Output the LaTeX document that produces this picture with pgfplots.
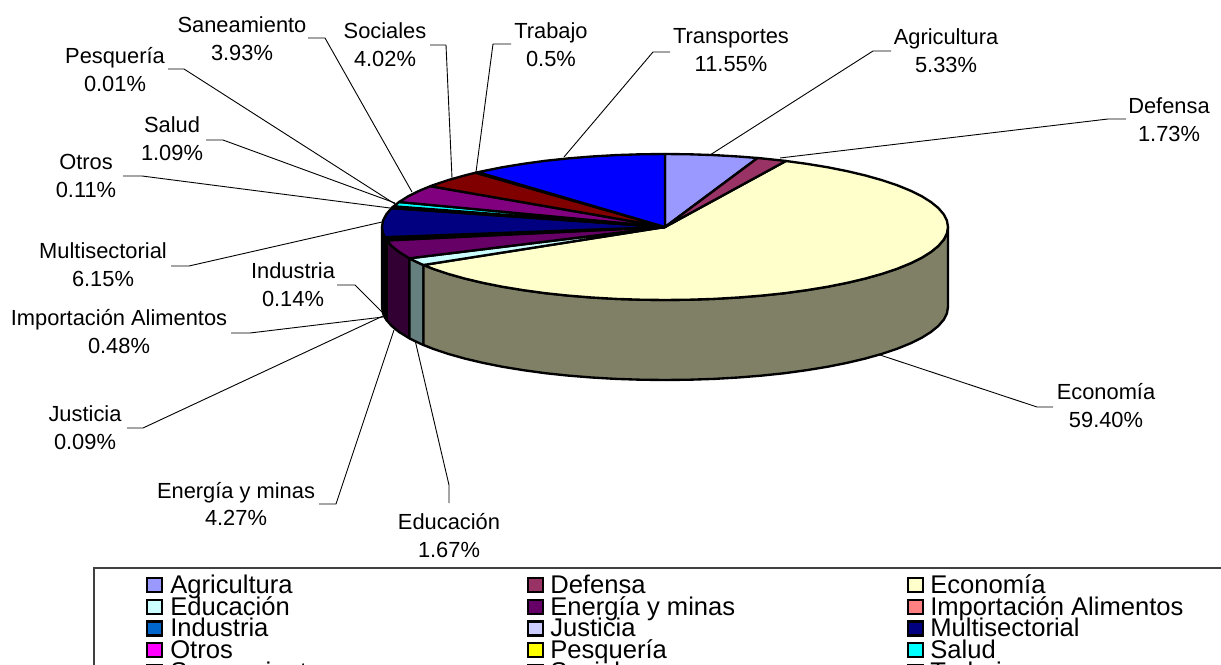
\documentclass[border=0pt]{standalone}
\usepackage{fontspec}
\setmainfont{Liberation Sans}
\usepackage{pgfplots}
\pgfplotsset{compat=1.18}
\definecolor{cAgri}{HTML}{9999FF}
\definecolor{cDef}{HTML}{993366}
\definecolor{cEco}{HTML}{FFFFCC}
\definecolor{cEdu}{HTML}{CCFFFF}
\definecolor{cEne}{HTML}{660066}
\definecolor{cImp}{HTML}{FF8080}
\definecolor{cInd}{HTML}{0066CC}
\definecolor{cJus}{HTML}{CCCCFF}
\definecolor{cMul}{HTML}{000080}
\definecolor{cOtr}{HTML}{FF00FF}
\definecolor{cPes}{HTML}{FFFF00}
\definecolor{cSal}{HTML}{00FFFF}
\definecolor{cSan}{HTML}{800080}
\definecolor{cSoc}{HTML}{800000}
\definecolor{cTra}{HTML}{008080}
\definecolor{cTrn}{HTML}{0000FF}
\definecolor{sEco}{HTML}{808066}
\definecolor{sEdu}{HTML}{668080}
\definecolor{sEne}{HTML}{330033}
\definecolor{sImp}{HTML}{804040}
\definecolor{sInd}{HTML}{003366}
\definecolor{sJus}{HTML}{666680}
\definecolor{sMul}{HTML}{000040}
\tikzset{
  ld/.style={black,line width=0.65pt,line join=round,mark=none},
  sl/.style={draw=black,line width=1.7pt,line join=round,mark=none,fill=#1},
  sw/.style={draw=black,line width=1.8pt,line join=miter,mark=none,fill=#1},
  lab/.style={inner sep=0,align=center,font=\fontsize{15.8}{20.2}\selectfont},
  leg/.style={inner sep=0,anchor=base west,font=\fontsize{18.5}{20}\selectfont}}
\begin{document}
\begin{tikzpicture}
\path[use as bounding box, clip] (0,0) rectangle (12.21in,6.65in);
\begin{axis}[at={(0,0)},anchor=south west,scale only axis,width=12.21in,height=6.65in,
  xmin=0,xmax=1221,ymin=0,ymax=665,y dir=reverse,axis lines=none,clip=false]
% leader lines
\addplot[ld] coordinates {(308,38)(325,38)(412,192)};
\addplot[ld] coordinates {(168,69)(184,69)(395,204)};
\addplot[ld] coordinates {(206,140)(223,140)(395,203)};
\addplot[ld] coordinates {(123,176)(142,176)(390,208)};
\addplot[ld] coordinates {(430,45)(446,45)(452,178)};
\addplot[ld] coordinates {(511,44)(493,44)(476,172)};
\addplot[ld] coordinates {(670,52)(653,52)(564,157)};
\addplot[ld] coordinates {(891,51)(873,51)(710,155)};
\addplot[ld] coordinates {(1126,119)(1108,119)(780,158)};
\addplot[ld] coordinates {(1053,407)(1037,407)(877,354)};
\addplot[ld] coordinates {(171,266)(189,266)(382,222)};
\addplot[ld] coordinates {(337,285)(355,285)(383,313)};
\addplot[ld] coordinates {(231,333)(250,333)(383,317)};
\addplot[ld] coordinates {(127,428)(143,428)(383,316)};
\addplot[ld] coordinates {(319,504)(336,504)(394,330)};
\addplot[ld] coordinates {(449,503)(449,485)(415,340)};
% side faces
\addplot[sl=sMul] coordinates {(384.8,237.2)(383.1,233.4)(382,227)(382,307)(383.1,313.4)(384.8,317.2)} --cycle;
\addplot[sl=sJus] coordinates {(385,237.6)(384.8,237.2)(384.8,317.2)(385,317.6)} --cycle;
\addplot[sl=sInd] coordinates {(385.4,238.2)(385,237.6)(385,317.6)(385.4,318.2)} --cycle;
\addplot[sl=sImp] coordinates {(386.8,240.4)(385.4,238.2)(385.4,318.2)(386.8,320.4)} --cycle;
\addplot[sl=sEne] coordinates {(409.4,258.3)(399.1,252)(391.6,245.9)(386.8,240.4)(386.8,320.4)(391.6,325.9)(399.1,332)(409.4,338.3)} --cycle;
\addplot[sl=sEdu] coordinates {(423.5,265)(419.9,263.5)(409.4,258.3)(409.4,338.3)(419.9,343.5)(423.5,345)} --cycle;
\addplot[sl=sEco] coordinates {(948,227)(946.9,233.4)(943.7,239.7)(938.4,245.9)(930.9,252)(921.5,257.9)(910.1,263.5)(896.8,268.9)(881.8,273.9)(865.1,278.6)(846.9,282.9)(827.3,286.8)(806.5,290.2)(784.6,293.2)(761.8,295.6)(738.2,297.5)(714.1,298.9)(689.7,299.7)(665,300)(640.3,299.7)(615.9,298.9)(591.8,297.5)(568.2,295.6)(545.4,293.2)(523.5,290.2)(502.7,286.8)(483.1,282.9)(464.9,278.6)(448.2,273.9)(433.2,268.9)(423.5,265)(423.5,345)(433.2,348.9)(448.2,353.9)(464.9,358.6)(483.1,362.9)(502.7,366.8)(523.5,370.2)(545.4,373.2)(568.2,375.6)(591.8,377.5)(615.9,378.9)(640.3,379.7)(665,380)(689.7,379.7)(714.1,378.9)(738.2,377.5)(761.8,375.6)(784.6,373.2)(806.5,370.2)(827.3,366.8)(846.9,362.9)(865.1,358.6)(881.8,353.9)(896.8,348.9)(910.1,343.5)(921.5,337.9)(930.9,332)(938.4,325.9)(943.7,319.7)(946.9,313.4)(948,307)} --cycle;
% top slices
\addplot[sl=cEco] coordinates {(665,227)(785.9,161)(806.5,163.8)(827.3,167.2)(846.9,171.1)(865.1,175.4)(881.8,180.1)(896.8,185.1)(910.1,190.5)(921.5,196.1)(930.9,202)(938.4,208.1)(943.7,214.3)(946.9,220.6)(948,227)(946.9,233.4)(943.7,239.7)(938.4,245.9)(930.9,252)(921.5,257.9)(910.1,263.5)(896.8,268.9)(881.8,273.9)(865.1,278.6)(846.9,282.9)(827.3,286.8)(806.5,290.2)(784.6,293.2)(761.8,295.6)(738.2,297.5)(714.1,298.9)(689.7,299.7)(665,300)(640.3,299.7)(615.9,298.9)(591.8,297.5)(568.2,295.6)(545.4,293.2)(523.5,290.2)(502.7,286.8)(483.1,282.9)(464.9,278.6)(448.2,273.9)(433.2,268.9)(423.5,265)} --cycle;
\addplot[sl=cAgri] coordinates {(665,227)(665,154)(689.7,154.3)(714.1,155.1)(738.2,156.5)(757.6,158)} --cycle;
\addplot[sl=cDef] coordinates {(665,227)(757.6,158)(761.8,158.4)(784.6,160.8)(785.9,161)} --cycle;
\addplot[sl=cEdu] coordinates {(665,227)(423.5,265)(419.9,263.5)(409.4,258.3)} --cycle;
\addplot[sl=cEne] coordinates {(665,227)(409.4,258.3)(399.1,252)(391.6,245.9)(386.8,240.4)} --cycle;
\addplot[sl=cImp] coordinates {(665,227)(386.8,240.4)(385.4,238.2)} --cycle;
\addplot[sl=cInd] coordinates {(665,227)(385.4,238.2)(385,237.6)} --cycle;
\addplot[sl=cJus] coordinates {(665,227)(385,237.6)(384.8,237.2)} --cycle;
\addplot[sl=cMul] coordinates {(665,227)(384.8,237.2)(383.1,233.4)(382,227)(383.1,220.6)(386.3,214.3)(391.6,208.1)} --cycle;
\addplot[sl=cOtr] coordinates {(665,227)(391.6,208.1)(392.5,207.3)} --cycle;
\addplot[sl=cPes] coordinates {(665,227)(392.5,207.3)(393.7,206.3)} --cycle;
\addplot[sl=cSal] coordinates {(665,227)(393.7,206.3)(399.1,202)} --cycle;
\addplot[sl=cSan] coordinates {(665,227)(399.1,202)(408.5,196.1)(419.9,190.5)(430.4,186.2)} --cycle;
\addplot[sl=cSoc] coordinates {(665,227)(430.4,186.2)(433.2,185.1)(448.2,180.1)(464.9,175.4)(475.6,172.7)} --cycle;
\addplot[sl=cTra] coordinates {(665,227)(475.6,172.7)(478,172.2)} --cycle;
\addplot[sl=cTrn] coordinates {(665,227)(478,172.2)(483.1,171.1)(502.7,167.2)(523.5,163.8)(545.4,160.8)(568.2,158.4)(591.8,156.5)(615.9,155.1)(640.3,154.3)(665,154)} --cycle;
% data labels
\node[lab] at (axis cs:242,39) {Saneamiento\\3.93\%};
\node[lab] at (axis cs:115,70) {Pesquería\\0.01\%};
\node[lab] at (axis cs:385,45) {Sociales\\4.02\%};
\node[lab] at (axis cs:551,45) {Trabajo\\0.5\%};
\node[lab] at (axis cs:731,50) {Transportes\\11.55\%};
\node[lab] at (axis cs:946,51) {Agricultura\\5.33\%};
\node[lab] at (axis cs:1169,120) {Defensa\\1.73\%};
\node[lab] at (axis cs:172,139) {Salud\\1.09\%};
\node[lab] at (axis cs:86,176) {Otros\\0.11\%};
\node[lab] at (axis cs:103,265) {Multisectorial\\6.15\%};
\node[lab] at (axis cs:293,285) {Industria\\0.14\%};
\node[lab] at (axis cs:119,332) {Importación Alimentos\\0.48\%};
\node[lab] at (axis cs:85,428) {Justicia\\0.09\%};
\node[lab] at (axis cs:236,504) {Energía y minas\\4.27\%};
\node[lab] at (axis cs:449,536) {Educación\\1.67\%};
\node[lab] at (axis cs:1106,406) {Economía\\59.40\%};
% legend frame
\addplot[color=black!75,line width=0.8pt,mark=none] coordinates {(94,670)(94,568)(1225,568)};
% legend swatches
\addplot[sw=cAgri] coordinates {(147,578)(162,578)(162,592)(147,592)} --cycle;
\addplot[sw=cDef] coordinates {(528,578)(543,578)(543,592)(528,592)} --cycle;
\addplot[sw=cEco] coordinates {(908,578)(923,578)(923,592)(908,592)} --cycle;
\addplot[sw=cEdu] coordinates {(147,600)(162,600)(162,614)(147,614)} --cycle;
\addplot[sw=cEne] coordinates {(528,600)(543,600)(543,614)(528,614)} --cycle;
\addplot[sw=cImp] coordinates {(908,600)(923,600)(923,614)(908,614)} --cycle;
\addplot[sw=cInd] coordinates {(147,621.5)(162,621.5)(162,635.5)(147,635.5)} --cycle;
\addplot[sw=cJus] coordinates {(528,621.5)(543,621.5)(543,635.5)(528,635.5)} --cycle;
\addplot[sw=cMul] coordinates {(908,621.5)(923,621.5)(923,635.5)(908,635.5)} --cycle;
\addplot[sw=cOtr] coordinates {(147,643)(162,643)(162,657)(147,657)} --cycle;
\addplot[sw=cPes] coordinates {(528,643)(543,643)(543,657)(528,657)} --cycle;
\addplot[sw=cSal] coordinates {(908,643)(923,643)(923,657)(908,657)} --cycle;
\addplot[sw=cSan] coordinates {(147,665)(162,665)(162,679)(147,679)} --cycle;
\addplot[sw=cSoc] coordinates {(528,665)(543,665)(543,679)(528,679)} --cycle;
\addplot[sw=cTra] coordinates {(908,665)(923,665)(923,679)(908,679)} --cycle;
% legend text
\node[leg] at (axis cs:170,593) {Agricultura};
\node[leg] at (axis cs:550,593) {Defensa};
\node[leg] at (axis cs:930,593) {Economía};
\node[leg] at (axis cs:170,615) {Educación};
\node[leg] at (axis cs:550,615) {Energía y minas};
\node[leg] at (axis cs:930,615) {Importación Alimentos};
\node[leg] at (axis cs:170,636.5) {Industria};
\node[leg] at (axis cs:550,636.5) {Justicia};
\node[leg] at (axis cs:930,636.5) {Multisectorial};
\node[leg] at (axis cs:170,658) {Otros};
\node[leg] at (axis cs:550,658) {Pesquería};
\node[leg] at (axis cs:930,658) {Salud};
\node[leg] at (axis cs:170,680) {Saneamiento};
\node[leg] at (axis cs:550,680) {Sociales};
\node[leg] at (axis cs:930,680) {Trabajo};
\end{axis}
\end{tikzpicture}
\end{document}
